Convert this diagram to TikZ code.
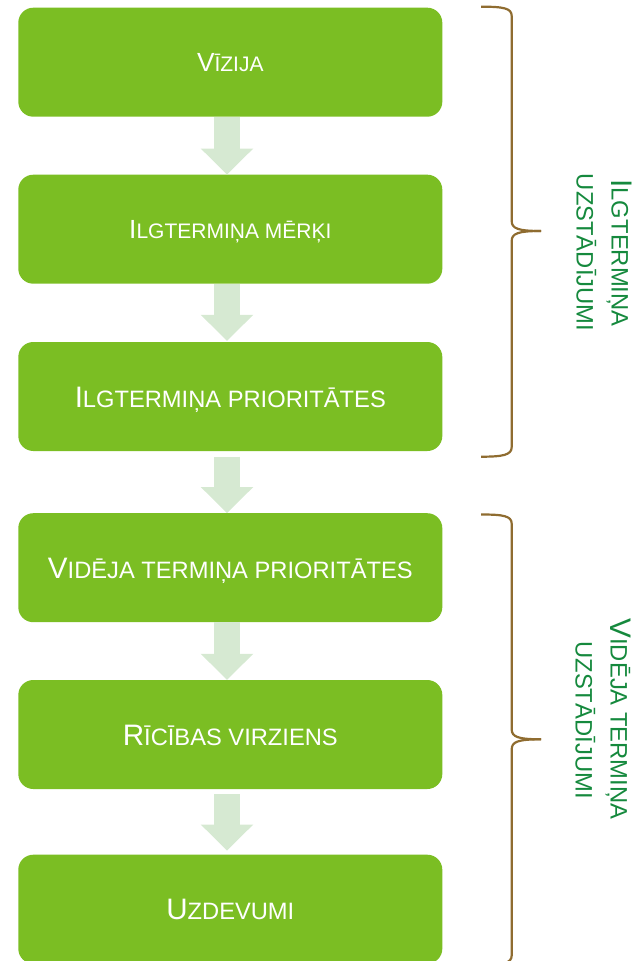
\documentclass[tikz,border=0pt]{standalone}
\usepackage{fontspec}
\setmainfont{Liberation Sans}
\usetikzlibrary{arrows.meta,calc}
\definecolor{boxgreen}{HTML}{7BBE23}
\definecolor{arrowgreen}{HTML}{D6E9D2}
\definecolor{bracecol}{HTML}{8F6C30}
\definecolor{labgreen}{HTML}{15893D}
\newcommand\scword[4]{{\fontsize{#1pt}{#1pt}\selectfont #3}{\fontsize{#2pt}{#2pt}\selectfont #4}}
\begin{document}
\begin{tikzpicture}[x=1pt,y=-1pt,
  stepbox/.style={fill=boxgreen, rounded corners=15pt, minimum width=424pt,
    minimum height=109pt, inner sep=0pt, text=white, text depth=0pt},
  smalltxt/.style={text height=18.8pt},
  largetxt/.style={text height=21.2pt},
  flowarrow/.style={draw=arrowgreen, line width=26pt,
    -{Triangle[length=26pt,width=52.6pt,line width=0pt]}},
  brace/.style={draw=bracecol, line width=2.2pt},
  sidelab/.style={rotate=-90, text=labgreen, inner sep=0pt, anchor=base}]
\useasboundingbox (0,0) rectangle (639,961);
\clip (0,0) rectangle (639,961);

\node[stepbox, smalltxt] (b1) at (230.3,62.2) {\scword{26.25}{21}{V}{ĪZIJA}};
\node[stepbox, smalltxt] (b2) at (230.3,229.2) {\scword{26.25}{21}{I}{LGTERMIŅA MĒRĶI}};
\node[stepbox, largetxt] (b3) at (230.3,396.5) {\scword{29.6}{23.7}{I}{LGTERMIŅA PRIORITĀTES}};
\node[stepbox, largetxt] (b4) at (230.3,567.7) {\scword{29.6}{23.7}{V}{IDĒJA TERMIŅA PRIORITĀTES}};
\node[stepbox, largetxt] (b5) at (230.3,734.5) {\scword{29.6}{23.7}{R}{ĪCĪBAS VIRZIENS}};
\node[stepbox, largetxt] (b6) at (230.3,909.2) {\scword{29.6}{23.7}{U}{ZDEVUMI}};

\draw[flowarrow] ([xshift=-3.3pt]b1.south) -- ([xshift=-3.3pt]b2.north);
\draw[flowarrow, shorten >=1pt] ([xshift=-3.3pt]b2.south) -- ([xshift=-3.3pt]b3.north);
\draw[flowarrow, shorten <=5.3pt] ([xshift=-3.3pt]b3.south) -- ([xshift=-3.3pt]b4.north);
\draw[flowarrow] ([xshift=-3.3pt]b4.south) -- ([xshift=-3.3pt]b5.north);
\draw[flowarrow, shorten <=5pt, shorten >=4pt] ([xshift=-3.3pt]b5.south) -- ([xshift=-3.3pt]b6.north);

% braces
\draw[brace] (481,6.7) .. controls (503,6.7) and (511.7,8) .. (511.7,16) -- (511.7,221)
  .. controls (511.7,228.5) and (518,231) .. (541,231);
\draw[brace] (541,231) .. controls (518,231) and (511.7,233.5) .. (511.7,241) -- (511.7,447)
  .. controls (511.7,455) and (503,456.7) .. (481,456.7);
\draw[brace] (481,514.5) .. controls (503,514.5) and (511.7,515.8) .. (511.7,523.8) -- (511.7,729.3)
  .. controls (511.7,736.8) and (518,739.3) .. (541,739.3);
\draw[brace] (541,739.3) .. controls (518,739.3) and (511.7,741.8) .. (511.7,749.3) -- (511.7,955.3)
  .. controls (511.7,963.3) and (503,965) .. (481,965);

% side labels
\node[sidelab] (la1) at (611.7,253) {\scword{29.75}{23.8}{I}{LGTERMIŅA}};
\node[sidelab] (la2) at (576.7,252.5) {\fontsize{23.8pt}{23.8pt}\selectfont UZSTĀDĪJUMI};
\node[sidelab] (lb1) at (610.5,719) {\scword{29.75}{23.8}{V}{IDĒJA TERMIŅA}};
\node[sidelab] (lb2) at (575.5,720) {\fontsize{23.8pt}{23.8pt}\selectfont UZSTĀDĪJUMI};
\end{tikzpicture}
\end{document}
